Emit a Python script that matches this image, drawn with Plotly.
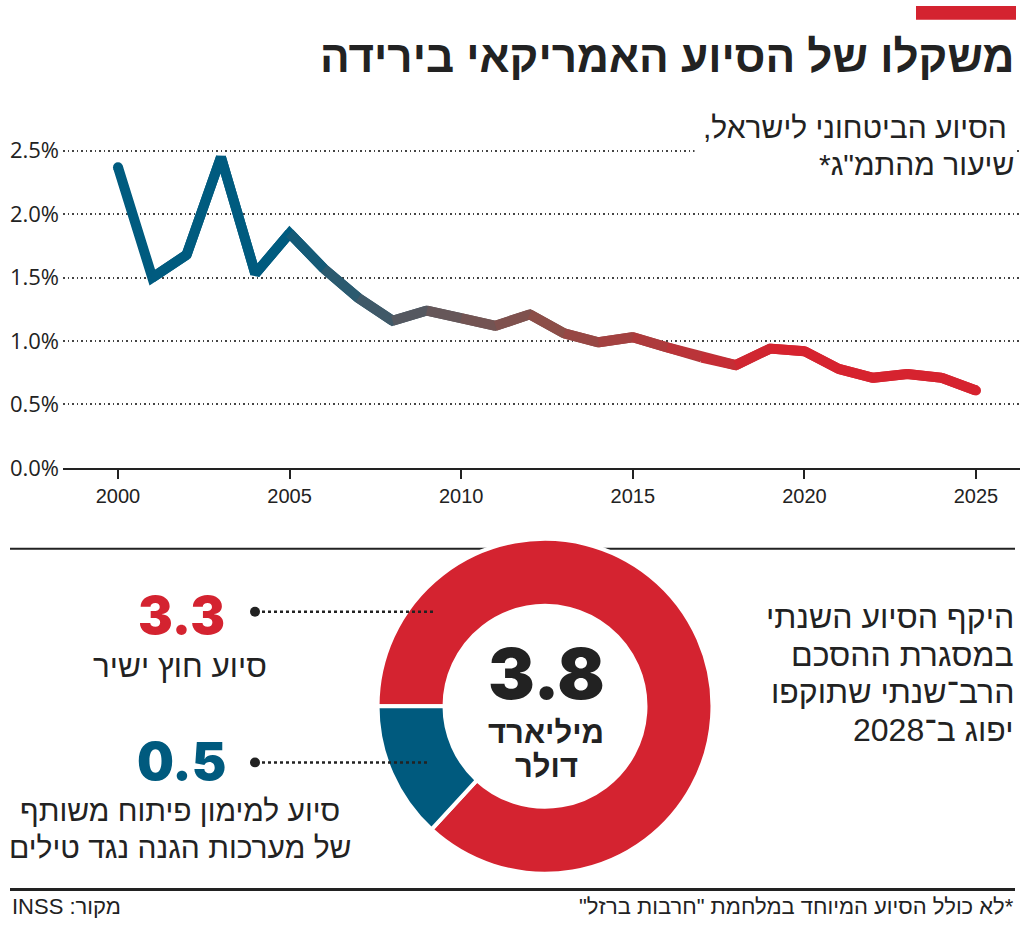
import plotly.graph_objects as go

# ---------------- data ----------------
years = list(range(2000, 2026))
aid_share = [2.37, 1.50, 1.68, 2.45, 1.53, 1.85, 1.57, 1.34, 1.16, 1.24,
             1.18, 1.12, 1.21, 1.06, 0.99, 1.03, 0.95, 0.87, 0.81, 0.94,
             0.92, 0.78, 0.71, 0.74, 0.71, 0.61]
x_tick_vals = [2000, 2005, 2010, 2015, 2020, 2025]
y_tick_vals = [0, 0.5, 1.0, 1.5, 2.0, 2.5]
y_tick_text = ["0.0%", "0.5%", "1.0%", "1.5%", "2.0%", "2.5%"]

donut_labels = ["סיוע חוץ ישיר", "סיוע למימון פיתוח משותף של מערכות הגנה נגד טילים"]
donut_values = [3.3, 0.5]
donut_total_text = "3.8"

# ---------------- styles ----------------
W, H = 1024, 936
RED = "#d42330"
BLUE = "#005a7e"
INK = "#222222"
HEB = "Liberation Sans Narrow, Liberation Sans, Arial, sans-serif"
NUM = "Inter, Lato, sans-serif"

# gradient stops along the x axis (year, rgb)
grad_stops = [(2004.5, (0, 91, 127)), (2009.0, (96, 88, 92)),
              (2012.5, (140, 78, 72)), (2019.0, (214, 35, 47))]


def grad(x):
    if x <= grad_stops[0][0]:
        c = grad_stops[0][1]
    elif x >= grad_stops[-1][0]:
        c = grad_stops[-1][1]
    else:
        for (x0, c0), (x1, c1) in zip(grad_stops[:-1], grad_stops[1:]):
            if x0 <= x <= x1:
                t = (x - x0) / (x1 - x0)
                c = tuple(round(a + (b - a) * t) for a, b in zip(c0, c1))
                break
    return "rgb(%d,%d,%d)" % c


def px(x):
    return x / W


def py(y):
    return 1 - y / H


def rtl(s):
    return "\u202b" + s + "\u202c"


fig = go.Figure()

# line drawn as overlapping colored pieces (gradient)
for j in range(len(years) - 1):
    fig.add_trace(go.Scatter(
        x=years[j:j + 3], y=aid_share[j:j + 3], mode="lines",
        line=dict(color=grad((years[j] + years[j + 1]) / 2), width=10),
        hoverinfo="skip", showlegend=False))

# rounded ends
fig.add_trace(go.Scatter(
    x=[years[0], years[-1]], y=[aid_share[0], aid_share[-1]], mode="markers",
    marker=dict(size=10, color=[grad(years[0]), grad(years[-1])], line=dict(width=0)),
    hoverinfo="skip", showlegend=False))

# donut
fig.add_trace(go.Pie(
    labels=donut_labels, values=donut_values, hole=0.6, sort=False,
    direction="clockwise", rotation=270,
    marker=dict(colors=[RED, BLUE], line=dict(color="white", width=4)),
    textinfo="none", hoverinfo="skip", showlegend=False,
    domain=dict(x=[px(545 - 170), px(545 + 170)], y=[py(717 + 170), py(717 - 170)])))

x0_px, x1_px = 63, 1020
x_per_year = (976 - 118) / 25
fig.update_layout(
    width=W, height=H, margin=dict(l=0, r=0, t=0, b=0),
    paper_bgcolor="white", plot_bgcolor="white",
    xaxis=dict(
        domain=[px(x0_px), px(x1_px)],
        range=[2000 - (118 - x0_px) / x_per_year, 2025 + (x1_px - 976) / x_per_year],
        tickvals=x_tick_vals, ticks="outside", ticklen=9, tickwidth=2, tickcolor=INK,
        showline=True, linecolor=INK, linewidth=2, showgrid=False, zeroline=False,
        tickfont=dict(family=HEB, size=20, color=INK), anchor="y", fixedrange=True),
    xaxis2=dict(
        overlaying="x", matches="x", anchor="y", side="bottom",
        tickvals=x_tick_vals, ticks="inside", ticklen=9, tickwidth=2, tickcolor=INK,
        showticklabels=False, showline=False, showgrid=False, zeroline=False),
    yaxis=dict(
        domain=[py(475), py(100)], range=[0, (475 - 100) / 128.8],
        tickvals=y_tick_vals, ticktext=y_tick_text,
        showgrid=True, gridcolor="#444444", gridwidth=1.5, griddash="1.5px,3px",
        zeroline=False, showline=False, ticks="",
        tickfont=dict(family="Open Sans, sans-serif", size=22, color=INK),
        ticklabelstandoff=3, fixedrange=True),
)

shapes = [
    dict(type="rect", xref="paper", yref="paper", x0=px(916), x1=px(1016), y0=py(20), y1=py(6),
         fillcolor=RED, line=dict(width=0)),
    dict(type="line", xref="paper", yref="paper", x0=px(10), x1=px(1015), y0=py(557), y1=py(557),
         line=dict(color=INK, width=2), layer="below"),
    dict(type="line", xref="paper", yref="paper", x0=px(10), x1=px(1015), y0=py(903), y1=py(903),
         line=dict(color=INK, width=3), layer="below"),
    # leader lines
    dict(type="circle", xref="paper", yref="paper", x0=px(250), x1=px(260), y0=py(626), y1=py(616),
         fillcolor=INK, line=dict(width=0)),
    dict(type="line", xref="paper", yref="paper", x0=px(262), x1=px(433), y0=py(621), y1=py(621),
         line=dict(color=INK, width=2.5, dash="dot")),
    dict(type="circle", xref="paper", yref="paper", x0=px(250), x1=px(260), y0=py(779), y1=py(769),
         fillcolor=INK, line=dict(width=0)),
    dict(type="line", xref="paper", yref="paper", x0=px(262), x1=px(428), y0=py(774), y1=py(774),
         line=dict(color=INK, width=2.5, dash="dot")),
]
fig.update_layout(shapes=shapes)


def ann(text, x, y, size, xanchor="right", color=INK, family=HEB, weight="normal", **kw):
    fig.add_annotation(text=text, x=px(x), y=py(y), xref="paper", yref="paper",
                       xanchor=xanchor, yanchor="middle", showarrow=False,
                       font=dict(family=family, size=size, color=color, weight=weight), **kw)


# title & subtitle
ann(rtl("משקלו של הסיוע האמריקאי בירידה"), 1016, 57, 44, weight="bold")
ann(rtl("הסיוע הביטחוני לישראל,"), 1016, 129, 30, bgcolor="white", borderpad=8)
ann(rtl("שיעור מהתמ\"ג*"), 1016, 167, 30)

# donut texts
right_lines = ["היקף הסיוע השנתי", "במסגרת ההסכם", "הרב־שנתי שתוקפו", "יפוג ב־2028"]
for i, line in enumerate(right_lines):
    ann(rtl(line), 1016, 626 + 38.5 * i, 32)

ann(donut_total_text, 546, 684, 70, xanchor="center", family=NUM, weight=900)
ann(rtl("מיליארד"), 546, 744, 31, xanchor="center", weight="bold")
ann(rtl("דולר"), 546, 778, 31, xanchor="center", weight="bold")

ann("%.1f" % donut_values[0], 181, 625, 52, xanchor="center", color=RED, family=NUM, weight=900)
ann(rtl(donut_labels[0]), 180, 676, 31.5, xanchor="center")
ann("%.1f" % donut_values[1], 181, 773, 52, xanchor="center", color=BLUE, family=NUM, weight=900)
ann(rtl("סיוע למימון פיתוח משותף"), 180, 823, 30, xanchor="center")
ann(rtl("של מערכות הגנה נגד טילים"), 180, 860, 30, xanchor="center")

# footer
ann(rtl("*לא כולל הסיוע המיוחד במלחמת \"חרבות ברזל\""), 1016, 920, 22)
ann(rtl("מקור: INSS"), 10, 920, 22, xanchor="left")

fig.write_html("out.html")
